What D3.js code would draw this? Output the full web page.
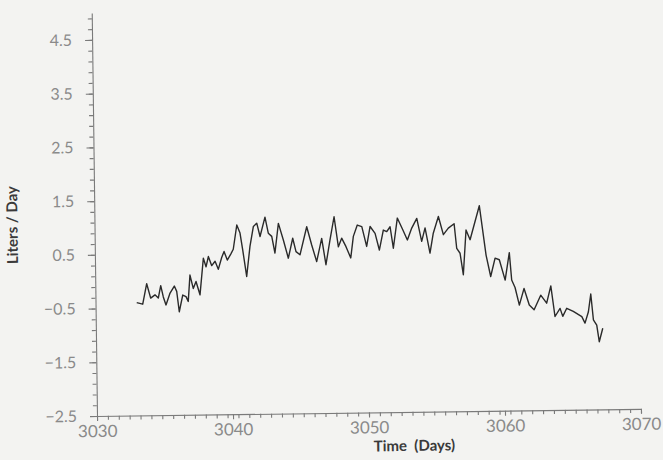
<!DOCTYPE html>
<html>
<head>
<meta charset="utf-8">
<script src="https://cdn.jsdelivr.net/npm/d3@7"></script>
<style>
  html, body { margin: 0; padding: 0; background: #f3f3f1; }
  svg { display: block; }
  .tick text { font-family: Lato, "Open Sans", sans-serif; fill: #8a8a8a; }
  .domain, .tick line { stroke: #7a7a7a; }
  .title { font-family: Lato, "Open Sans", sans-serif; font-weight: bold; fill: #3a3a3a; }
</style>
</head>
<body>
<svg width="663" height="460"></svg>
<script>
// values
var days = [3033.03,3033.47,3033.78,3034.06,3034.38,3034.62,3034.81,3034.99,3035.18,3035.49,
  3035.81,3035.98,3036.15,3036.42,3036.66,3036.82,3036.97,3037.20,3037.41,3037.69,
  3037.97,3038.16,3038.34,3038.58,3038.83,3039.06,3039.32,3039.50,3039.73,3039.99,
  3040.18,3040.46,3040.69,3040.87,3041.14,3041.41,3041.68,3041.93,3042.16,3042.54,
  3042.77,3043.02,3043.24,3043.52,3043.87,3044.22,3044.56,3044.79,3045.08,3045.60,
  3045.95,3046.30,3046.69,3046.98,3047.30,3047.62,3047.91,3048.16,3048.47,3048.81,
  3049.02,3049.32,3049.65,3049.99,3050.26,3050.62,3050.92,3051.23,3051.48,3051.73,
  3051.95,3052.27,3052.66,3052.99,3053.32,3053.70,3054.04,3054.30,3054.64,3054.90,
  3055.29,3055.64,3056.01,3056.44,3056.61,3056.85,3057.07,3057.31,3057.60,3058.31,
  3058.76,3059.08,3059.42,3059.73,3060.14,3060.47,3060.62,3060.86,3061.16,3061.52,
  3061.89,3062.24,3062.74,3063.17,3063.49,3063.77,3064.15,3064.34,3064.64,3065.12,
  3065.74,3065.97,3066.23,3066.42,3066.59,3066.83,3067.00,3067.27];

var litersPerDay = [-0.40,-0.43,-0.05,-0.32,-0.26,-0.32,-0.09,-0.30,-0.45,-0.23,
  -0.10,-0.20,-0.58,-0.27,-0.30,-0.39,0.10,-0.15,-0.02,-0.27,
  0.41,0.25,0.44,0.27,0.35,0.20,0.42,0.53,0.37,0.48,
  0.57,1.02,0.87,0.56,0.06,0.62,0.99,1.05,0.80,1.16,
  0.86,0.80,0.49,1.04,0.73,0.39,0.76,0.51,0.45,0.97,
  0.63,0.32,0.75,0.26,0.72,1.15,0.59,0.75,0.59,0.38,
  0.78,0.99,0.96,0.59,0.96,0.83,0.52,0.89,0.86,0.95,
  0.55,1.11,0.89,0.70,0.92,1.10,0.67,0.92,0.45,0.82,
  1.13,0.79,0.91,0.99,0.53,0.44,0.04,0.87,0.69,1.32,
  0.40,0.00,0.34,0.31,-0.07,0.44,-0.07,-0.21,-0.54,-0.23,
  -0.54,-0.63,-0.36,-0.51,-0.19,-0.76,-0.61,-0.76,-0.61,-0.67,
  -0.77,-0.89,-0.68,-0.35,-0.83,-0.93,-1.24,-0.99];

var xTicks = [3030, 3040, 3050, 3060, 3070];
var yTicks = [-2.5, -1.5, -0.5, 0.5, 1.5, 2.5, 3.5, 4.5];

var svg = d3.select("svg");
var ox = 97, oy = 416;

// the scan is a little tilted, so the whole plot is turned a bit
var canvas = svg.append("g").attr("transform", "rotate(-0.75," + ox + "," + oy + ")");

var x = d3.scaleLinear().domain([3030, 3070]).range([ox, 641]);
var y = d3.scaleLinear().domain([-2.5, 5.0]).range([oy, 13]);

// minor ticks first
canvas.append("g")
  .attr("transform", "translate(0," + oy + ")")
  .call(d3.axisBottom(x).tickValues(d3.range(3030, 3070.01, 0.8)).tickSize(4).tickFormat(""))
  .select(".domain").remove();
canvas.append("g")
  .attr("transform", "translate(" + ox + ",0)")
  .call(d3.axisLeft(y).tickValues(d3.range(-2.5, 5.01, 0.2)).tickSize(4).tickFormat(""))
  .select(".domain").remove();

var xAxis = canvas.append("g")
  .attr("transform", "translate(0," + oy + ")")
  .call(d3.axisBottom(x).tickValues(xTicks).tickSize(5).tickSizeOuter(0).tickPadding(4).tickFormat(d3.format("d")));
xAxis.selectAll("text").style("font-size", "17px");

var yAxis = canvas.append("g")
  .attr("transform", "translate(" + ox + ",0)")
  .call(d3.axisLeft(y).tickValues(yTicks).tickSize(7).tickSizeOuter(0).tickPadding(13)
    .tickFormat(function(d) { return d3.format(".1f")(d).replace("-", "\u2212"); }));
yAxis.selectAll("text").style("font-size", "16px");

canvas.selectAll(".domain, .tick line").attr("stroke-width", 1.1);

var line = d3.line()
  .x(function(d, i) { return x(days[i]); })
  .y(function(d) { return y(d); });

canvas.append("path")
  .datum(litersPerDay)
  .attr("d", line)
  .attr("fill", "none")
  .attr("stroke", "#2a2a2a")
  .attr("stroke-width", 1.4)
  .attr("stroke-linejoin", "round");

canvas.append("text")
  .attr("class", "title")
  .attr("x", 414)
  .attr("y", 455)
  .attr("text-anchor", "middle")
  .style("font-size", "15px")
  .style("white-space", "pre")
  .text("Time  (Days)");

canvas.append("text")
  .attr("class", "title")
  .attr("transform", "translate(20,224) rotate(-90)")
  .attr("text-anchor", "middle")
  .style("font-size", "15px")
  .text("Liters / Day");
</script>
</body>
</html>
